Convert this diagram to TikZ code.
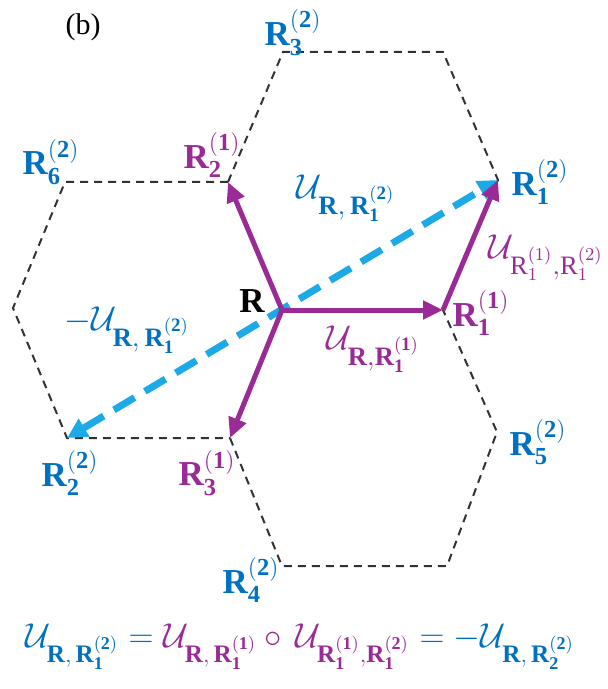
\documentclass[tikz,border=0pt]{standalone}
\usepackage{amsmath}
\usepackage{fontspec}
\setmainfont{Liberation Serif}
\usetikzlibrary{arrows.meta}
\definecolor{blueT}{RGB}{0,112,192}
\definecolor{purp}{RGB}{153,42,150}
\definecolor{cyanA}{RGB}{27,170,230}
\definecolor{dashcol}{RGB}{50,50,50}
\newcommand\Rlab[2]{\mathbf{R}_{\mathbf{#1}}^{\mathbf{(#2)}}}
\begin{document}
\begin{tikzpicture}[x=0.5pt,y=-0.5pt,
  hexline/.style={draw=dashcol,line width=1pt,dash pattern=on 4pt off 3pt},
  parrow/.style={draw=purp,line width=2.5pt,-{Triangle[length=10pt,width=9pt]}},
  carrow/.style={draw=cyanA,line width=3.5pt,dash pattern=on 12pt off 6pt,{Triangle[length=10pt,width=10pt]}-{Triangle[length=10pt,width=10pt]}},
  lab/.style={inner sep=0pt,font=\fontsize{17.5}{20}\selectfont},
  ulab/.style={inner sep=0pt,font=\fontsize{19}{22}\selectfont}]
\useasboundingbox (0,0) rectangle (608,689);
% lattice points
\coordinate (A) at (283,52);
\coordinate (B) at (443,52);
\coordinate (C) at (498,180);
\coordinate (D) at (443,310);
\coordinate (R) at (282,310);
\coordinate (E) at (228,182);
\coordinate (F) at (65,182);
\coordinate (G) at (13,308);
\coordinate (H) at (67,438);
\coordinate (I) at (230,438);
\coordinate (J) at (282,566);
\coordinate (K) at (447,566);
\coordinate (L) at (497,432);
% dashed hexagons
\draw[hexline] (E) -- (A) -- (B) -- (C) -- (D);
\draw[hexline] (E) -- (F) -- (G) -- (H) -- (I);
\draw[hexline] (I) -- (J) -- (K) -- (L) -- (D);
% cyan arrow
\draw[carrow] (H) -- (C);
% purple arrows
\draw[parrow] (R) -- (D);
\draw[parrow] (R) -- (E);
\draw[parrow] (R) -- (I);
\draw[parrow] (D) -- (C);
% labels
\node[inner sep=0pt,font=\fontsize{15}{17}\selectfont] (b) at (83,27) {(b)};
\node[lab,text=blueT] (l32) at (293,33) {$\Rlab{3}{2}$};
\node[lab,text=blueT] (l62) at (51,162) {$\Rlab{6}{2}$};
\node[lab,text=purp] (l21) at (212,155) {$\Rlab{2}{1}$};
\node[ulab,text=blueT] (uA) at (346,198) {$\mathcal{U}_{\mathbf{R},\,\Rlab{1}{2}}$};
\node[lab,text=blueT] (l12) at (540,182) {$\Rlab{1}{2}$};
\node[ulab,text=purp] (uB) at (546,258) {$\mathcal{U}_{\mathrm{R}_1^{(1)},\mathrm{R}_1^{(2)}}$};
\node[lab,text=purp] (l11) at (481,313) {$\Rlab{1}{1}$};
\node[lab] (lR) at (252,301) {$\mathbf{R}$};
\node[ulab,text=blueT] (uC) at (127,330) {$-\mathcal{U}_{\mathbf{R},\,\Rlab{1}{2}}$};
\node[ulab,text=purp] (uD) at (373,349) {$\mathcal{U}_{\mathbf{R},\Rlab{1}{1}}$};
\node[lab,text=blueT] (l52) at (538,442) {$\Rlab{5}{2}$};
\node[lab,text=blueT] (l22) at (70,473) {$\Rlab{2}{2}$};
\node[lab,text=purp] (l31) at (207,473) {$\Rlab{3}{1}$};
\node[lab,text=blueT] (l42) at (251,580) {$\Rlab{4}{2}$};
\node[inner sep=0pt,font=\fontsize{18}{21}\selectfont] (eq) at (300,647) {$\textcolor{blueT}{\mathcal{U}_{\mathbf{R},\,\Rlab{1}{2}}\;\mathbf{=}}\;\textcolor{purp}{\mathcal{U}_{\mathbf{R},\,\Rlab{1}{1}}\circ\,\mathcal{U}_{\Rlab{1}{1},\Rlab{1}{2}}}\;\textcolor{blueT}{=-\mathcal{U}_{\mathbf{R},\,\Rlab{2}{2}}}$};
\end{tikzpicture}
\end{document}
